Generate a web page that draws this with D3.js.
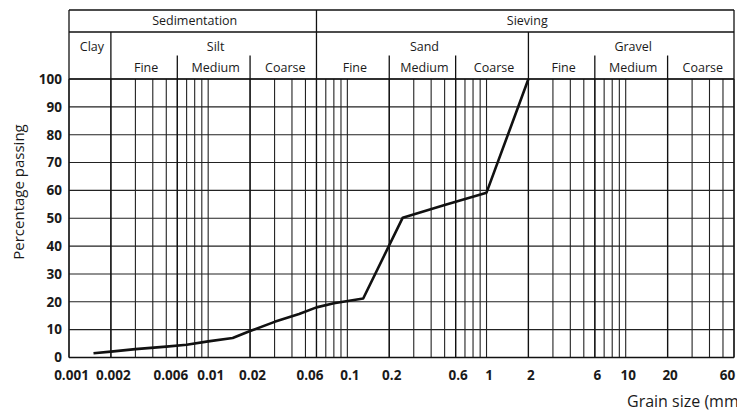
<!DOCTYPE html>
<html lang="en">
<head>
<meta charset="utf-8">
<title>Grain size distribution</title>
<script src="https://cdn.jsdelivr.net/npm/d3@7"></script>
<style>
  body { margin: 0; background: #fff; }
  text { font-family: "Open Sans", "Noto Sans", sans-serif; fill: #1a1a1a; }
</style>
</head>
<body>
<script>

// grading curve
var sizes   = [0.0015, 0.002, 0.003, 0.005, 0.007, 0.01, 0.015, 0.02, 0.03, 0.045, 0.06, 0.08, 0.13, 0.25, 0.5, 1.0, 2.0];
var passing = [1.5,    2.1,   3.0,   3.9,   4.6,   5.8,  7.0,   9.5,  12.8, 15.6,  18.0, 19.5, 21.2, 50.2, 54.8, 59.2, 100];

// axis labels
var xTickValues = [0.001, 0.002, 0.006, 0.01, 0.02, 0.06, 0.1, 0.2, 0.6, 1, 2, 6, 10, 20, 60];
var xTickLabels = ["0.001", "0.002", "0.006", "0.01", "0.02", "0.06", "0.1", "0.2", "0.6", "1", "2", "6", "10", "20", "60"];
var yTickValues = [0, 10, 20, 30, 40, 50, 60, 70, 80, 90, 100];

// header table
var methods   = ["Sedimentation", "Sieving"];
var methodBounds = [0.001, 0.06, 60];
var soils     = ["Clay", "Silt", "Sand", "Gravel"];
var soilBounds = [0.001, 0.002, 0.06, 2, 60];
var fractions = ["Fine", "Medium", "Coarse"];
var fractionBounds = [[0.002, 0.006, 0.02, 0.06], [0.06, 0.2, 0.6, 2], [2, 6, 20, 60]];

var w = 737, h = 412;
// note: "top" is reserved on window, so use other names
var pLeft = 69, pRight = 734, pTop = 79, pBottom = 357.5;
var headTop = 10, row1 = 32, row2 = 55.5;

var x = d3.scaleLog().domain([0.001, 60]).range([pLeft, pRight]);
var y = d3.scaleLinear().domain([0, 100]).range([pBottom, pTop]);

var svg = d3.select("body").append("svg")
    .attr("width", w)
    .attr("height", h);

// vertical grid, every 1..9 of each decade
svg.append("g").selectAll("line")
    .data(x.ticks())
    .enter().append("line")
    .attr("x1", function (d) { return x(d); })
    .attr("x2", function (d) { return x(d); })
    .attr("y1", pTop)
    .attr("y2", pBottom)
    .attr("stroke", "#222")
    .attr("stroke-width", 1.1);

// horizontal grid
svg.append("g").selectAll("line")
    .data(yTickValues)
    .enter().append("line")
    .attr("x1", pLeft)
    .attr("x2", pRight)
    .attr("y1", function (d) { return y(d); })
    .attr("y2", function (d) { return y(d); })
    .attr("stroke", "#222")
    .attr("stroke-width", 1.1);

// header box and frame
var head = svg.append("g").attr("stroke", "#111").attr("stroke-width", 1.3);
head.append("line").attr("x1", pLeft).attr("x2", pRight).attr("y1", headTop).attr("y2", headTop);
head.append("line").attr("x1", pLeft).attr("x2", pRight).attr("y1", row1).attr("y2", row1);
head.append("line").attr("x1", pLeft).attr("x2", pLeft).attr("y1", headTop).attr("y2", pBottom);
head.append("line").attr("x1", pRight).attr("x2", pRight).attr("y1", headTop).attr("y2", pBottom);
head.append("line").attr("x1", pLeft).attr("x2", pRight).attr("y1", pBottom).attr("y2", pBottom);
head.append("line").attr("x1", pLeft).attr("x2", pRight).attr("y1", pTop).attr("y2", pTop);

// method divider runs full height
head.selectAll("line.method")
    .data(methodBounds.slice(1, -1))
    .enter().append("line")
    .attr("class", "method")
    .attr("x1", function (d) { return x(d); })
    .attr("x2", function (d) { return x(d); })
    .attr("y1", headTop)
    .attr("y2", pBottom);

// soil dividers from row 1 down
head.selectAll("line.soil")
    .data([soilBounds[1], soilBounds[3]])
    .enter().append("line")
    .attr("class", "soil")
    .attr("x1", function (d) { return x(d); })
    .attr("x2", function (d) { return x(d); })
    .attr("y1", row1)
    .attr("y2", pBottom);

// fraction dividers
var fracLines = [];
fractionBounds.forEach(function (b) { fracLines.push(b[1], b[2]); });
head.selectAll("line.frac")
    .data(fracLines)
    .enter().append("line")
    .attr("class", "frac")
    .attr("x1", function (d) { return x(d); })
    .attr("x2", function (d) { return x(d); })
    .attr("y1", row2)
    .attr("y2", pBottom);

function mid(a, b) { return (x(a) + x(b)) / 2 + 2; }

svg.append("g").selectAll("text")
    .data(methods)
    .enter().append("text")
    .attr("x", function (d, i) { return mid(methodBounds[i], methodBounds[i + 1]); })
    .attr("y", 25)
    .attr("text-anchor", "middle")
    .attr("font-size", "12.5px")
    .text(function (d) { return d; });

svg.append("g").selectAll("text")
    .data(soils)
    .enter().append("text")
    .attr("x", function (d, i) { return mid(soilBounds[i], soilBounds[i + 1]); })
    .attr("y", 50.5)
    .attr("text-anchor", "middle")
    .attr("font-size", "12.5px")
    .text(function (d) { return d; });

fractionBounds.forEach(function (b) {
    svg.append("g").selectAll("text")
        .data(fractions)
        .enter().append("text")
        .attr("x", function (d, i) { return mid(b[i], b[i + 1]); })
        .attr("y", 72)
        .attr("text-anchor", "middle")
        .attr("font-size", "12.5px")
        .text(function (d) { return d; });
});

// grading curve
var pts = sizes.map(function (s, i) { return [s, passing[i]]; });
svg.append("path")
    .datum(pts)
    .attr("fill", "none")
    .attr("stroke", "#111")
    .attr("stroke-width", 2.6)
    .attr("stroke-linejoin", "round")
    .attr("d", d3.line()
        .x(function (d) { return x(d[0]); })
        .y(function (d) { return y(d[1]); }));

// axes (labels only)
var xAxis = svg.append("g")
    .attr("transform", "translate(0," + pBottom + ")")
    .call(d3.axisBottom(x).tickValues(xTickValues).tickSize(0).tickPadding(13)
        .tickFormat(function (d, i) { return xTickLabels[i]; }));
var yAxis = svg.append("g")
    .attr("transform", "translate(" + pLeft + ",0)")
    .call(d3.axisLeft(y).tickValues(yTickValues).tickSize(0).tickPadding(7));

[xAxis, yAxis].forEach(function (a) {
    a.select(".domain").remove();
    a.selectAll("text")
        .attr("font-family", "'Open Sans', sans-serif")
        .attr("font-size", "13.5px")
        .attr("font-weight", "bold")
        .attr("fill", "#1a1a1a");
});
// the crowded labels sit a bit left of their lines, as in the original
xAxis.selectAll("text")
    .attr("dx", function (d) {
        if (d === 0.006 || d === 0.06) return -7;
        if (d === 60) return -7;
        return 2;
    });

svg.append("text")
    .attr("transform", "translate(24,192) rotate(-90)")
    .attr("text-anchor", "middle")
    .attr("font-size", "15px")
    .text("Percentage passing");

svg.append("text")
    .attr("x", 627)
    .attr("y", 407)
    .attr("font-size", "16px")
    .text("Grain size (mm)");

</script>
</body>
</html>
